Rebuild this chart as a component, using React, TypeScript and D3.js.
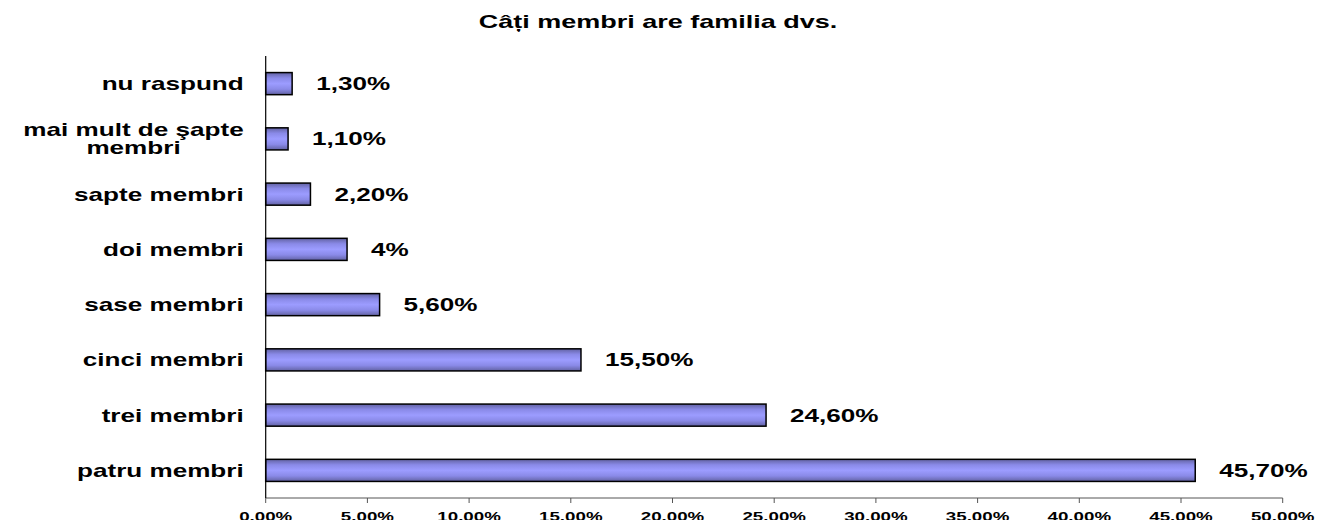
import { useEffect, useRef } from "react";
import * as d3 from "d3";

const title = "Câți membri are familia dvs.";
// top to bottom, as in the picture
const categories = [
  "nu raspund",
  "mai mult de şapte membri",
  "sapte membri",
  "doi membri",
  "sase membri",
  "cinci membri",
  "trei membri",
  "patru membri",
];
const values = [1.3, 1.1, 2.2, 4, 5.6, 15.5, 24.6, 45.7];
const valueLabels = ["1,30%", "1,10%", "2,20%", "4%", "5,60%", "15,50%", "24,60%", "45,70%"];
const xTicks = [0, 5, 10, 15, 20, 25, 30, 35, 40, 45, 50];

export default function App() {
  const ref = useRef<SVGSVGElement>(null);

  useEffect(() => {
    const width = 1318;
    const height = 520;
    const left = 265.7;
    const right = 1282.7;
    const top = 56;
    const bottom = 498;
    const sx = 1.45; // text in the original is stretched wide
    const font = "'Liberation Sans', Arial, sans-serif";

    const svg = d3.select(ref.current);
    svg.selectAll("*").remove();
    svg.attr("width", width).attr("height", height);

    const x = d3.scaleLinear().domain([0, 50]).range([left, right]);
    const y = d3
      .scaleBand<string>()
      .domain(categories)
      .range([top, bottom])
      .paddingInner(0.6)
      .paddingOuter(0.3);

    const grad = svg
      .append("defs")
      .append("linearGradient")
      .attr("id", "barGrad")
      .attr("x1", 0)
      .attr("y1", 0)
      .attr("x2", 0)
      .attr("y2", 1);
    grad.append("stop").attr("offset", "0%").attr("stop-color", "#6262a3");
    grad.append("stop").attr("offset", "25%").attr("stop-color", "#8a8ae8");
    grad.append("stop").attr("offset", "50%").attr("stop-color", "#9c9cff");
    grad.append("stop").attr("offset", "75%").attr("stop-color", "#8a8ae8");
    grad.append("stop").attr("offset", "100%").attr("stop-color", "#6262a3");

    // helper for stretched text
    const stretched = (
      parent: d3.Selection<any, any, any, any>,
      px: number,
      py: number,
      size: number,
      anchor: string,
      k = sx
    ) =>
      parent
        .append("text")
        .attr("transform", `translate(${px},${py}) scale(${k},1)`)
        .attr("font-family", font)
        .attr("font-weight", "bold")
        .attr("font-size", size)
        .attr("text-anchor", anchor)
        .attr("fill", "#000");

    // title
    stretched(svg, 658, 28, 18, "middle", 1.5).text(title);

    // x axis
    svg
      .append("line")
      .attr("x1", left)
      .attr("x2", right)
      .attr("y1", bottom)
      .attr("y2", bottom)
      .attr("stroke", "#555")
      .attr("stroke-width", 1);
    xTicks.forEach((t) => {
      svg
        .append("line")
        .attr("x1", x(t))
        .attr("x2", x(t))
        .attr("y1", bottom)
        .attr("y2", bottom + 5)
        .attr("stroke", "#555");
      stretched(svg, x(t), 520.5, 12.5, "middle", 1.5).text(`${t.toFixed(2)}%`);
    });

    // bars
    categories.forEach((c, i) => {
      svg
        .append("rect")
        .attr("x", x(0))
        .attr("y", y(c)!)
        .attr("width", x(values[i]) - x(0))
        .attr("height", y.bandwidth())
        .attr("fill", "url(#barGrad)")
        .attr("stroke", "#000")
        .attr("stroke-width", 1.5);

      stretched(svg, x(values[i]) + 24, y(c)! + y.bandwidth() / 2 + 6.5, 18, "start").text(
        valueLabels[i]
      );
    });

    // y axis line
    svg
      .append("line")
      .attr("x1", left)
      .attr("x2", left)
      .attr("y1", top)
      .attr("y2", bottom)
      .attr("stroke", "#000")
      .attr("stroke-width", 1.2);

    // category labels, wrapped when too long
    const maxW = 170;
    categories.forEach((c) => {
      const cy = y(c)! + y.bandwidth() / 2;
      const g = svg
        .append("g")
        .attr("transform", `translate(${left - 22},${cy}) scale(${sx},1)`);
      const words = c.split(" ");
      const lines: string[] = [];
      let cur = "";
      const probe = g
        .append("text")
        .attr("font-family", font)
        .attr("font-weight", "bold")
        .attr("font-size", 18);
      words.forEach((w) => {
        const test = cur ? cur + " " + w : w;
        probe.text(test);
        if ((probe.node() as SVGTextElement).getComputedTextLength() > maxW && cur) {
          lines.push(cur);
          cur = w;
        } else {
          cur = test;
        }
      });
      lines.push(cur);
      const widths = lines.map((l) => {
        probe.text(l);
        return (probe.node() as SVGTextElement).getComputedTextLength();
      });
      probe.remove();
      const blockW = d3.max(widths)!;
      const lh = 18;
      lines.forEach((l, k) => {
        g.append("text")
          .attr("x", -blockW / 2)
          .attr("y", (k - (lines.length - 1) / 2) * lh + 6.5)
          .attr("font-family", font)
          .attr("font-weight", "bold")
          .attr("font-size", 18)
          .attr("text-anchor", "middle")
          .text(l);
      });
    });
  }, []);

  return (
    <svg
      ref={ref}
      style={{ position: "absolute", left: 0, top: 0, background: "#fff" }}
    />
  );
}
